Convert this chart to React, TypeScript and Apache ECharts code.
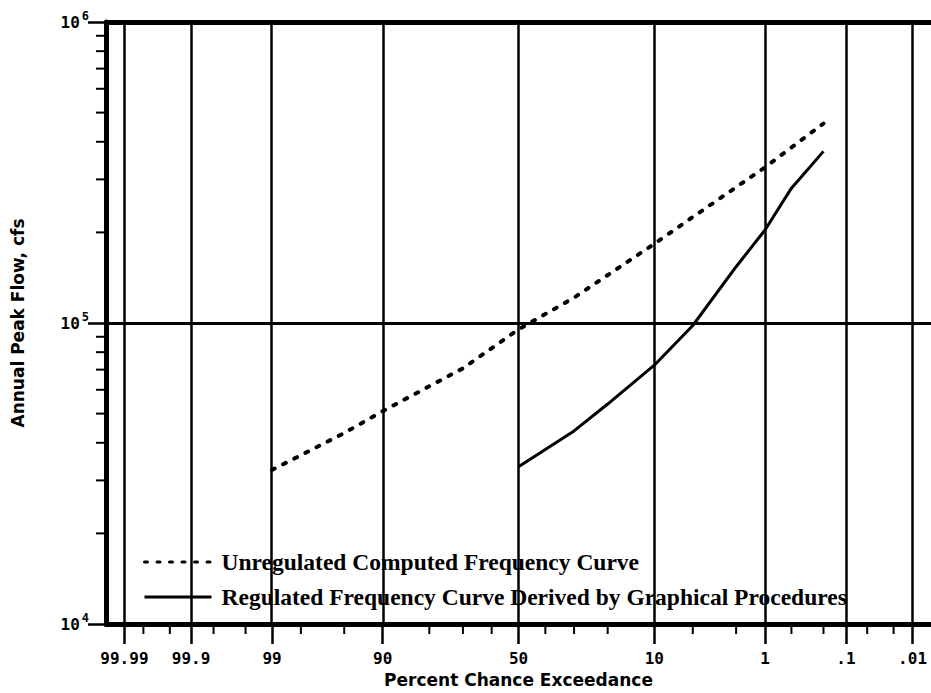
import React, { useEffect, useRef } from "react";
import * as echarts from "echarts";

// ---- Data ----
const majorPercents = [99.99, 99.9, 99, 90, 50, 10, 1, 0.1, 0.01];
const majorLabels = ["99.99", "99.9", "99", "90", "50", "10", "1", ".1", ".01"];
const minorPercents = [99.98, 99.95, 99.8, 99.5, 98, 95, 80, 70, 60, 40, 30, 20, 5, 2, 0.5, 0.2, 0.05, 0.02];
const yMajorTicks = [1e4, 1e5, 1e6];
const yMinorTicks = [2e4, 3e4, 4e4, 5e4, 6e4, 7e4, 8e4, 9e4, 2e5, 3e5, 4e5, 5e5, 6e5, 7e5, 8e5, 9e5];

const unregName = "Unregulated Computed Frequency Curve";
const unregPercents = [99, 95, 90, 70, 50, 30, 10, 5, 1, 0.5, 0.2];
const unregFlows = [32500, 43100, 50960, 70700, 95200, 121400, 183200, 224900, 329000, 383000, 460000];

const regName = "Regulated Frequency Curve Derived by Graphical Procedures";
const regPercents = [50, 30, 20, 10, 5, 2, 1, 0.5, 0.2];
const regFlows = [33300, 43800, 53800, 72400, 98100, 153800, 203700, 280500, 371700];

const xTitle = "Percent Chance Exceedance";
const yTitle = "Annual Peak Flow, cfs";

// inverse standard normal CDF (Acklam)
function normInv(p: number): number {
  const a = [-3.969683028665376e1, 2.209460984245205e2, -2.759285104469687e2, 1.38357751867269e2, -3.066479806614716e1, 2.506628277459239];
  const b = [-5.447609879822406e1, 1.615858368580409e2, -1.556989798598866e2, 6.680131188771972e1, -1.328068155288572e1];
  const c = [-7.784894002430293e-3, -3.223964580411365e-1, -2.400758277161838, -2.549671010259214, 4.374664141464968, 2.938163982698783];
  const d = [7.784695709041462e-3, 3.224671290700398e-1, 2.445134137142996, 3.754408661907416];
  const pl = 0.02425;
  if (p < pl) {
    const q = Math.sqrt(-2 * Math.log(p));
    return (((((c[0] * q + c[1]) * q + c[2]) * q + c[3]) * q + c[4]) * q + c[5]) / ((((d[0] * q + d[1]) * q + d[2]) * q + d[3]) * q + 1);
  }
  if (p <= 1 - pl) {
    const q = p - 0.5;
    const r = q * q;
    return ((((((a[0] * r + a[1]) * r + a[2]) * r + a[3]) * r + a[4]) * r + a[5]) * q) / (((((b[0] * r + b[1]) * r + b[2]) * r + b[3]) * r + b[4]) * r + 1);
  }
  const q = Math.sqrt(-2 * Math.log(1 - p));
  return -(((((c[0] * q + c[1]) * q + c[2]) * q + c[3]) * q + c[4]) * q + c[5]) / ((((d[0] * q + d[1]) * q + d[2]) * q + d[3]) * q + 1);
}
const zOf = (pct: number) => normInv(1 - pct / 100);

const X_MIN = -3.893;
const X_MAX = 3.893;

export default function App() {
  const ref = useRef<HTMLDivElement>(null);
  useEffect(() => {
    if (!ref.current) return;
    const chart = echarts.init(ref.current, undefined, { renderer: "svg" });
    const majorZ = majorPercents.map(zOf);
    const minorZ = minorPercents.map(zOf);
    const labelFor = (v: number) => {
      let best = 0;
      let bd = Infinity;
      majorZ.forEach((z, i) => {
        const dd = Math.abs(z - v);
        if (dd < bd) {
          bd = dd;
          best = i;
        }
      });
      return majorLabels[best];
    };
    const black = "#000";
    const thickLine = { show: true, onZero: false, lineStyle: { color: black, width: 5 } };
    const monoLabel = { fontFamily: "DejaVu Sans Mono", fontWeight: "bold" as const, fontSize: 16, color: black };
    const titleFont = { fontFamily: "DejaVu Sans", fontWeight: "bold" as const, fontSize: 17, color: black };

    chart.setOption({
      animation: false,
      backgroundColor: "#fff",
      grid: { left: 106, top: 22, width: 830, height: 606, containLabel: false },
      legend: {
        data: [unregName, regName],
        orient: "vertical",
        left: 128,
        top: 538,
        padding: [12, 50, 10, 15],
        itemGap: 11,
        itemWidth: 67,
        itemHeight: 14,
        backgroundColor: "#fff",
        selectedMode: false,
        itemStyle: { opacity: 0 },
        lineStyle: { width: 3 },
        textStyle: {
          fontFamily: "Liberation Serif",
          fontWeight: "bold",
          fontSize: 23.5,
          lineHeight: 23,
          color: black,
          padding: [0, 0, 0, 5],
        },
      },
      xAxis: [
        {
          type: "value",
          min: X_MIN,
          max: X_MAX,
          position: "bottom",
          axisLine: thickLine,
          axisTick: { show: true, customValues: majorZ, length: 20, lineStyle: { color: black, width: 2.5 } },
          axisLabel: { customValues: majorZ, formatter: (v: number) => labelFor(v), margin: 26, ...monoLabel },
          splitLine: { show: false },
          name: xTitle,
          nameLocation: "middle",
          nameGap: 47,
          nameTextStyle: titleFont,
        },
        {
          type: "value",
          min: X_MIN,
          max: X_MAX,
          position: "top",
          axisLine: thickLine,
          axisTick: { show: false },
          axisLabel: { show: false },
          splitLine: { show: false },
        },
      ],
      yAxis: [
        {
          type: "log",
          logBase: 10,
          min: 1e4,
          max: 1e6,
          position: "left",
          axisLine: thickLine,
          axisTick: { show: true, customValues: yMajorTicks, length: 18, lineStyle: { color: black, width: 2.5 } },
          axisLabel: {
            customValues: yMajorTicks,
            margin: 17,
            formatter: (v: number) => `{b|10}{s|${Math.round(Math.log10(v))}}`,
            rich: {
              b: { fontFamily: "DejaVu Sans Mono", fontWeight: "bold", fontSize: 16, color: black },
              s: { fontFamily: "DejaVu Sans Mono", fontWeight: "bold", fontSize: 12, color: black, padding: [0, 0, 13, 2] },
            },
          },
          splitLine: { show: false },
          name: yTitle,
          nameLocation: "middle",
          nameGap: 80,
          nameRotate: 90,
          nameTextStyle: titleFont,
        },
      ],
      series: [
        {
          name: "grid",
          type: "line",
          data: [],
          silent: true,
          markLine: {
            silent: true,
            symbol: ["none", "none"],
            label: { show: false },
            lineStyle: { color: black, width: 2.5, type: "solid" },
            emphasis: { disabled: true },
            data: [...majorZ.map((z) => ({ xAxis: z })), { yAxis: 1e5, lineStyle: { width: 3 } }],
          },
        },
        {
          // minor flow ticks (2..9 per decade), outward from the left axis
          name: "yMinorTicks",
          type: "scatter",
          xAxisIndex: 0,
          yAxisIndex: 0,
          silent: true,
          clip: false,
          z: 6,
          symbol: "rect",
          symbolSize: [10, 2],
          symbolOffset: [-5, 0],
          itemStyle: { color: black, opacity: 1 },
          emphasis: { disabled: true },
          data: yMinorTicks.map((v) => [X_MIN, v]),
        },
        {
          // minor probability ticks, downward from the bottom axis
          name: "xMinorTicks",
          type: "scatter",
          xAxisIndex: 0,
          yAxisIndex: 0,
          silent: true,
          clip: false,
          z: 6,
          symbol: "rect",
          symbolSize: [2, 10],
          symbolOffset: [0, 5],
          itemStyle: { color: black, opacity: 1 },
          emphasis: { disabled: true },
          data: minorZ.map((z) => [z, yMajorTicks[0]]),
        },
        {
          name: unregName,
          type: "line",
          symbol: "none",
          data: unregPercents.map((p, i) => [zOf(p), unregFlows[i]]),
          lineStyle: { color: black, width: 4, type: [3, 9.5], cap: "round" },
          itemStyle: { color: black },
        },
        {
          name: regName,
          type: "line",
          symbol: "none",
          data: regPercents.map((p, i) => [zOf(p), regFlows[i]]),
          lineStyle: { color: black, width: 3, type: "solid" },
          itemStyle: { color: black },
        },
      ],
    });
    return () => chart.dispose();
  }, []);
  return (
    <div
      ref={ref}
      style={{ position: "fixed", left: 0, top: 0, width: 931, height: 693, background: "#fff" }}
    />
  );
}
